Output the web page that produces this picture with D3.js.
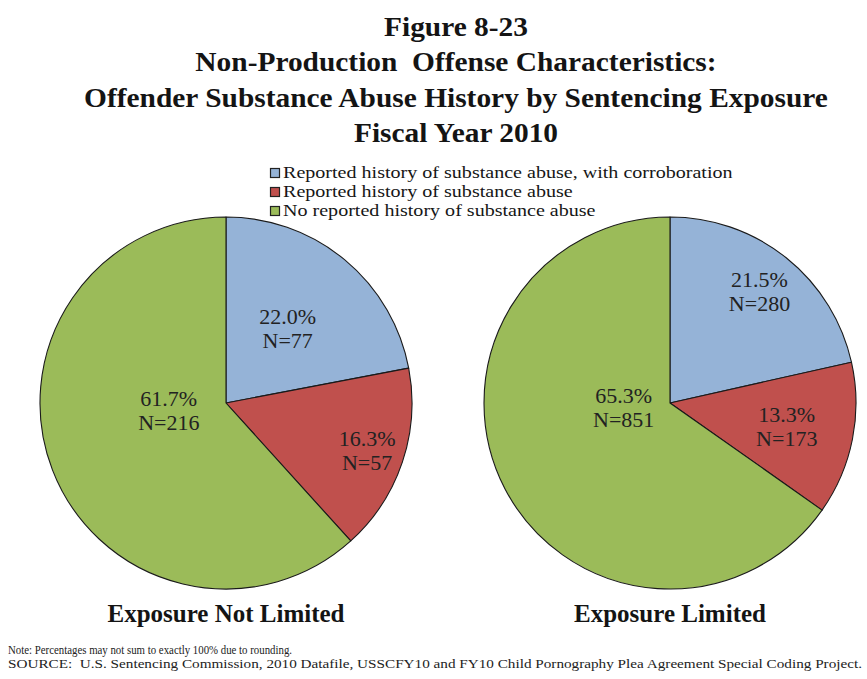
<!DOCTYPE html>
<html>
<head>
<meta charset="utf-8">
<script src="https://d3js.org/d3.v7.min.js"></script>
<style>
  html, body { margin: 0; padding: 0; background: #fff; }
  svg { display: block; }
</style>
</head>
<body>
<svg id="chart" width="867" height="679"></svg>
<script>
// Substance abuse history categories and colours
const categories = [
  "Reported history of substance abuse, with corroboration",
  "Reported history of substance abuse",
  "No reported history of substance abuse"
];
const colors = ["#95B3D7", "#C0504D", "#9BBB59"];

// Percent shares and counts per sentencing-exposure group
const notLimitedPct = [22.0, 16.3, 61.7];
const notLimitedN = [77, 57, 216];
const limitedPct = [21.5, 13.3, 65.3];
const limitedN = [280, 173, 851];

const groupNames = ["Exposure Not Limited", "Exposure Limited"];

const titleLines = [
  "Figure 8-23",
  "Non-Production  Offense Characteristics:",
  "Offender Substance Abuse History by Sentencing Exposure",
  "Fiscal Year 2010"
];
const noteLines = [
  "Note: Percentages may not sum to exactly 100% due to rounding.",
  "SOURCE:  U.S. Sentencing Commission, 2010 Datafile, USSCFY10 and FY10 Child Pornography Plea Agreement Special Coding Project."
];

const svg = d3.select("#chart");
const serif = "'Liberation Serif', 'Times New Roman', serif";

// Widen a text element horizontally by a factor
function widen(sel, k) {
  sel.each(function () {
    const w = this.getComputedTextLength();
    d3.select(this).attr("textLength", w * k).attr("lengthAdjust", "spacingAndGlyphs");
  });
}

// Title block
const title = svg.append("g").selectAll("text")
  .data(titleLines)
  .join("text")
  .attr("x", 456)
  .attr("y", (d, i) => 36 + i * 35.3)
  .attr("text-anchor", "middle")
  .attr("font-family", serif)
  .attr("font-weight", "bold")
  .attr("font-size", 28)
  .attr("fill", "#141414")
  .style("white-space", "pre")
  .text(d => d);
widen(title, 1.05);

// Legend
const legend = svg.append("g").attr("transform", "translate(270,163)");
const legendRow = legend.selectAll("g")
  .data(categories)
  .join("g")
  .attr("transform", (d, i) => `translate(0,${i * 19})`);
legendRow.append("rect")
  .attr("x", 0.5).attr("y", 5.5)
  .attr("width", 9).attr("height", 9)
  .attr("fill", (d, i) => colors[i])
  .attr("stroke", "#222").attr("stroke-width", 1.2);
const legendText = legendRow.append("text")
  .attr("x", 13).attr("y", 15)
  .attr("font-family", serif)
  .attr("font-size", 17)
  .attr("fill", "#161616")
  .text(d => d);
widen(legendText, 1.18);

// Pies
const radius = 186;
const pie = d3.pie().sort(null).value(d => d.pct);
const arc = d3.arc().innerRadius(0).outerRadius(radius);

// label placement per slice: [radius fraction, angle shift in degrees]
const groups = [
  { name: groupNames[0], cx: 226, pct: notLimitedPct, n: notLimitedN,
    labelPos: [[0.52, 0], [0.80, 0], [0.31, 14]] },
  { name: groupNames[1], cx: 670, pct: limitedPct, n: limitedN,
    labelPos: [[0.77, 0], [0.64, 0], [0.25, 23]] }
];

groups.forEach(g => {
  const data = g.pct.map((p, i) => ({ pct: p, n: g.n[i], color: colors[i], idx: i }));
  const arcs = pie(data);
  const pg = svg.append("g").attr("transform", `translate(${g.cx},403)`);
  pg.selectAll("path")
    .data(arcs)
    .join("path")
    .attr("d", arc)
    .attr("fill", d => d.data.color)
    .attr("stroke", "#1a1a1a")
    .attr("stroke-width", 1.1)
    .attr("stroke-linejoin", "round");

  const lbl = pg.selectAll("g.lbl")
    .data(arcs)
    .join("g")
    .attr("class", "lbl")
    .attr("transform", d => {
      const [f, shift] = g.labelPos[d.data.idx];
      const a = (d.startAngle + d.endAngle) / 2 + shift * Math.PI / 180;
      const r = radius * f;
      return `translate(${Math.sin(a) * r},${-Math.cos(a) * r})`;
    });
  lbl.append("text")
    .attr("y", -4)
    .attr("text-anchor", "middle")
    .attr("font-family", serif)
    .attr("font-size", 22)
    .attr("fill", "#222")
    .text(d => d.data.pct.toFixed(1) + "%");
  lbl.append("text")
    .attr("y", 20)
    .attr("text-anchor", "middle")
    .attr("font-family", serif)
    .attr("font-size", 22)
    .attr("fill", "#222")
    .text(d => "N=" + d.data.n);

  svg.append("text")
    .attr("x", g.cx)
    .attr("y", 622)
    .attr("text-anchor", "middle")
    .attr("font-family", serif)
    .attr("font-weight", "bold")
    .attr("font-size", 25)
    .attr("fill", "#141414")
    .text(g.name);
});

// Notes
svg.append("g").selectAll("text")
  .data(noteLines)
  .join("text")
  .attr("x", 8)
  .attr("y", (d, i) => 654 + i * 14)
  .attr("font-family", serif)
  .attr("font-size", 12)
  .attr("fill", "#222")
  .attr("textLength", (d, i) => i === 0 ? 284 : 854)
  .attr("lengthAdjust", "spacingAndGlyphs")
  .style("white-space", "pre")
  .text(d => d);
</script>
</body>
</html>
